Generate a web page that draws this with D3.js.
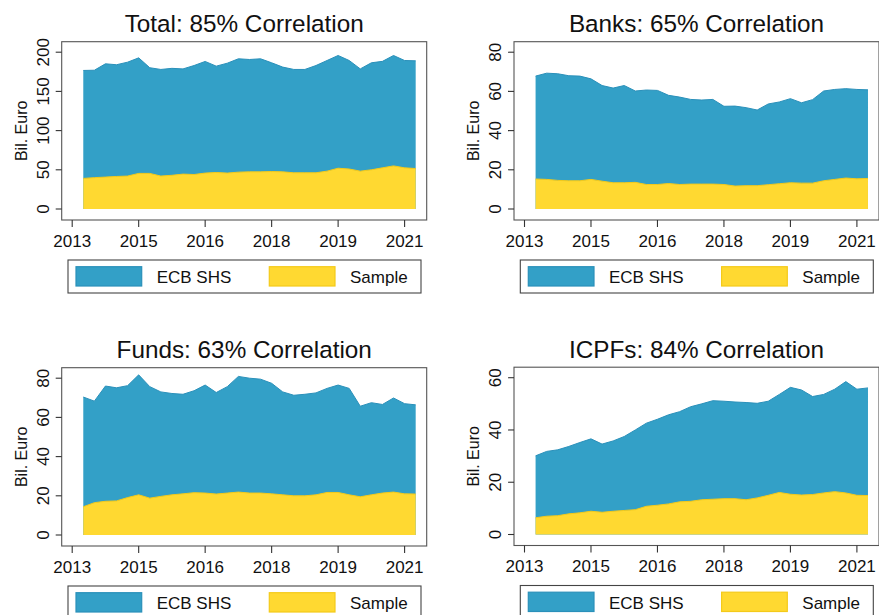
<!DOCTYPE html>
<html>
<head>
<meta charset="utf-8">
<script src="https://cdnjs.cloudflare.com/ajax/libs/d3/7.8.5/d3.min.js"></script>
<style>
  html, body { margin: 0; padding: 0; background: #fff; }
  svg { display: block; font-family: "Liberation Sans", Arial, sans-serif; }
</style>
</head>
<body>
<div id="chart"></div>
<script>
// quarterly observations, 2013q4 - 2021q2
var quarters = ['2013q4',
  '2014q1','2014q2','2014q3','2014q4',
  '2015q1','2015q2','2015q3','2015q4',
  '2016q1','2016q2','2016q3','2016q4',
  '2017q1','2017q2','2017q3','2017q4',
  '2018q1','2018q2','2018q3','2018q4',
  '2019q1','2019q2','2019q3','2019q4',
  '2020q1','2020q2','2020q3','2020q4',
  '2021q1','2021q2'];

// x ticks every 6 quarters, labelled with the year only
var tickQuarters = ['2013q3','2015q1','2016q3','2018q1','2019q3','2021q1'];
var tickLabels = ['2013','2015','2016','2018','2019','2021'];

var totalEcb = [176.7,177,185.2,184,187.3,192.8,180.2,178,179.4,178.7,183,188.2,182.2,186,191.6,190.7,
  191.6,186.5,181,178,178,183,189.4,195.8,189.4,178.7,186.5,188.3,195.8,189.4,189];
var totalSample = [39,40,40.7,41.5,42,45.4,45.4,42,43,44.5,44,45.8,46.6,45.8,47,47.4,
  47.4,47.8,47.4,46.2,46.2,46.2,48.3,52,51,48.3,50,52.5,55,52.5,51.6];

var banksEcb = [67.8,69.3,69,68,67.8,66.4,63,61.7,63,60.2,60.7,60.5,58,57.1,55.9,55.6,
  55.9,52.4,52.5,51.7,50.5,53.6,54.6,56.3,54.2,55.8,60.2,61,61.4,61,60.8];
var banksSample = [15.3,15.1,14.6,14.4,14.4,15.1,14.2,13.4,13.4,13.6,12.5,12.5,13,12.5,12.7,12.7,
  12.7,12.5,11.7,11.9,11.9,12.4,12.9,13.4,13.2,13.2,14.4,15.1,15.8,15.4,15.6];

var fundsEcb = [70.4,68.3,76,75.1,76.2,81.7,75.7,73,72.2,71.8,73.6,76.5,72.7,75.7,80.9,80,
  79.5,77.4,73,71.3,71.8,72.5,74.8,76.5,74.8,65.7,67.5,66.6,69.9,67,66.4];
var fundsSample = [14.4,16.5,17.2,17.4,19.1,20.5,18.8,19.7,20.5,21,21.6,21.4,20.9,21.4,21.9,21.4,
  21.4,21,20.5,20,20,20.5,21.7,21.7,20.5,19.5,20.5,21.4,21.9,21,20.9];

var icpfEcb = [30.1,31.8,32.4,33.7,35.2,36.6,34.6,35.8,37.5,40,42.6,44.1,45.8,47,48.9,50,
  51.2,51,50.7,50.5,50.2,51,53.6,56.3,55.3,52.8,53.6,55.6,58.5,55.6,56.1];
var icpfSample = [6.4,7,7.2,7.9,8.3,8.9,8.5,8.9,9.2,9.5,10.8,11.2,11.7,12.5,12.7,13.3,
  13.5,13.7,13.7,13.3,14,15,16.1,15.4,15.1,15.3,15.9,16.4,15.9,15,14.9];

var panels = [
  { title: 'Total: 85% Correlation', ecb: totalEcb, sample: totalSample, yTicks: [0,50,100,150,200], left: 61.7, top: 41.7 },
  { title: 'Banks: 65% Correlation', ecb: banksEcb, sample: banksSample, yTicks: [0,20,40,60,80], left: 514, top: 41.7 },
  { title: 'Funds: 63% Correlation', ecb: fundsEcb, sample: fundsSample, yTicks: [0,20,40,60,80], left: 61.7, top: 367.7 },
  { title: 'ICPFs: 84% Correlation', ecb: icpfEcb, sample: icpfSample, yTicks: [0,20,40,60], left: 514, top: 367.2 }
];

var blue = '#33a0c7', blueLine = '#2a90ba';
var yellow = '#ffd931', yellowLine = '#f4ca1a';
var frameW = 365, frameH = 178.3, pad = 10.5;

function qIndex(q) { return +q.slice(0, 4) * 4 + (+q.slice(5) - 1); }

var svg = d3.select('#chart').append('svg')
  .attr('width', 879)
  .attr('height', 615);

panels.forEach(function (p) {
  var g = svg.append('g').attr('transform', 'translate(' + p.left + ',' + p.top + ')');

  var x = d3.scaleLinear()
    .domain([qIndex(tickQuarters[0]), qIndex(tickQuarters[tickQuarters.length - 1])])
    .range([pad, pad + 332.4]);
  var y = d3.scaleLinear()
    .domain([0, d3.max(p.yTicks)])
    .range([frameH - pad - 0.5, pad]);

  var rows = quarters.map(function (q, i) { return { q: qIndex(q), ecb: p.ecb[i], sample: p.sample[i] }; });

  var area = function (key) {
    return d3.area().x(function (d) { return x(d.q); }).y0(y(0)).y1(function (d) { return y(d[key]); });
  };
  var line = function (key) {
    return d3.line().x(function (d) { return x(d.q); }).y(function (d) { return y(d[key]); });
  };

  g.append('path').datum(rows).attr('d', area('ecb')).attr('fill', blue);
  g.append('path').datum(rows).attr('d', line('ecb')).attr('fill', 'none').attr('stroke', blueLine).attr('stroke-width', 1);
  g.append('path').datum(rows).attr('d', area('sample')).attr('fill', yellow);
  g.append('path').datum(rows).attr('d', line('sample')).attr('fill', 'none').attr('stroke', yellowLine).attr('stroke-width', 1);

  // frame
  g.append('rect').attr('x', 0).attr('y', 0).attr('width', frameW).attr('height', frameH)
    .attr('fill', 'none').attr('stroke', '#555').attr('stroke-width', 1.1);

  // y axis
  var yAxis = g.append('g').attr('class', 'yaxis');
  p.yTicks.forEach(function (t) {
    yAxis.append('line').attr('x1', -6).attr('x2', 0).attr('y1', y(t)).attr('y2', y(t))
      .attr('stroke', '#333').attr('stroke-width', 1.1);
    yAxis.append('text')
      .attr('transform', 'translate(-13,' + y(t) + ') rotate(-90)')
      .attr('text-anchor', 'middle')
      .attr('font-size', 17).attr('fill', '#111')
      .text(t);
  });
  g.append('text')
    .attr('transform', 'translate(-35,' + (frameH / 2) + ') rotate(-90)')
    .attr('text-anchor', 'middle')
    .attr('font-size', 16).attr('fill', '#111')
    .text('Bil. Euro');

  // x axis
  var xAxis = g.append('g').attr('transform', 'translate(0,' + frameH + ')');
  tickQuarters.forEach(function (q, i) {
    xAxis.append('line').attr('x1', x(qIndex(q))).attr('x2', x(qIndex(q))).attr('y1', 0).attr('y2', 7)
      .attr('stroke', '#333').attr('stroke-width', 1.1);
    xAxis.append('text')
      .attr('x', x(qIndex(q))).attr('y', 26.5)
      .attr('text-anchor', 'middle')
      .attr('font-size', 17).attr('fill', '#111')
      .text(tickLabels[i]);
  });

  // title
  g.append('text')
    .attr('x', frameW / 2).attr('y', -9.5)
    .attr('text-anchor', 'middle')
    .attr('font-size', 24.3).attr('fill', '#111')
    .text(p.title);

  // legend
  var lg = g.append('g').attr('transform', 'translate(6.3,' + (frameH + 40) + ')');
  lg.append('rect').attr('width', 353).attr('height', 33)
    .attr('fill', '#fff').attr('stroke', '#444').attr('stroke-width', 1.1);
  lg.append('rect').attr('x', 8).attr('y', 6.7).attr('width', 65.7).attr('height', 19.3)
    .attr('fill', blue).attr('stroke', blueLine).attr('stroke-width', 1.2);
  lg.append('text').attr('x', 88.7).attr('y', 23.3).attr('font-size', 17).attr('fill', '#111').text('ECB SHS');
  lg.append('rect').attr('x', 201.3).attr('y', 6.7).attr('width', 65.7).attr('height', 19.3)
    .attr('fill', yellow).attr('stroke', yellowLine).attr('stroke-width', 1.2);
  lg.append('text').attr('x', 282).attr('y', 23.3).attr('font-size', 17).attr('fill', '#111').text('Sample');
});
</script>
</body>
</html>
